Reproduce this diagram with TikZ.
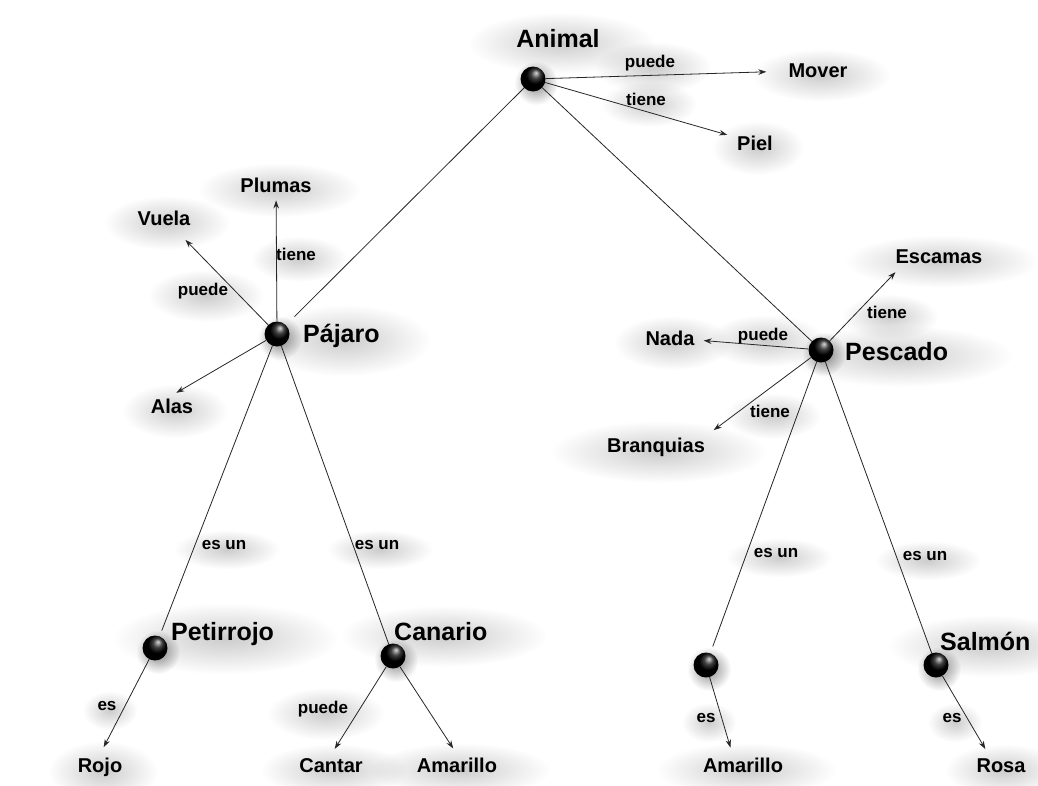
\documentclass[tikz,border=0pt]{standalone}
\usepackage{fontspec}
\setmainfont{Liberation Sans}
\usetikzlibrary{arrows.meta,calc,fadings,backgrounds}
\pgfdeclarelayer{bottom}
\pgfsetlayers{bottom,background,main}
\tikzfading[name=glowfade, inner color=transparent!0, outer color=transparent!100]
\begin{document}
\begin{tikzpicture}[x=1pt,y=-1pt,
  ball/.style={circle, minimum size=25pt, inner sep=0pt, ball color=black, shading angle=-70},
  big/.style={font=\bfseries\fontsize{25}{30}\selectfont, inner sep=3pt, anchor=base west},
  mid/.style={font=\bfseries\fontsize{20}{24}\selectfont, inner sep=3pt, anchor=base},
  lbl/.style={font=\bfseries\fontsize{17}{20}\selectfont, inner sep=2pt, anchor=base},
  link/.style={draw=black!85, line width=0.8pt},
  arr/.style={link, -{Stealth[length=8pt,width=5.5pt]}, shorten >=#1},
  arr/.default=6pt,
  glow/.style={fill=black, fill opacity=#1, path fading=glowfade},
]
\begin{pgfonlayer}{bottom}
\fill[white] (0,0) rectangle (1038,785);
\end{pgfonlayer}
\useasboundingbox (0,0) rectangle (1038,785);

% spheres
\node[ball] (animal) at (533,79) {};
\node[ball] (pajaro) at (277,334) {};
\node[ball] (pescado) at (821,350) {};
\node[ball] (petirrojo) at (155,648) {};
\node[ball] (canario) at (393,656) {};
\node[ball] (pez) at (706,665) {};
\node[ball] (salmon) at (936,665) {};

% sphere names
\node[big, anchor=base] (animalL) at (558,47) {Animal};
\node[big] (pajaroL) at (300,342) {Pájaro};
\node[big] (pescadoL) at (842,360) {Pescado};
\node[big] (petirrojoL) at (168,640) {Petirrojo};
\node[big] (canarioL) at (391,640) {Canario};
\node[big] (salmonL) at (937,650) {Salmón};

% attributes
\node[mid] (mover) at (818,77) {Mover};
\node[mid] (piel) at (755,150) {Piel};
\node[mid] (plumas) at (276,192) {Plumas};
\node[mid] (vuela) at (164,225) {Vuela};
\node[mid] (alas) at (172,413) {Alas};
\node[mid] (rojo) at (100,772) {Rojo};
\node[mid] (cantar) at (331,772) {Cantar};
\node[mid] (amarillo1) at (457,772) {Amarillo};
\node[mid] (escamas) at (939,263) {Escamas};
\node[mid] (nada) at (670,345) {Nada};
\node[mid] (branquias) at (656,452) {Branquias};
\node[mid] (amarillo2) at (743,772) {Amarillo};
\node[mid] (rosa) at (1001,772) {Rosa};

% connector labels
\node[lbl] (l1) at (650,67) {puede};
\node[lbl] (l2) at (646,105) {tiene};
\node[lbl] (l3) at (296,260) {tiene};
\node[lbl] (l4) at (203,295) {puede};
\node[lbl] (l5) at (224,549) {es un};
\node[lbl] (l6) at (377,549) {es un};
\node[lbl] (l7) at (107,710) {es};
\node[lbl] (l8) at (323,713) {puede};
\node[lbl] (l9) at (887,318) {tiene};
\node[lbl] (l10) at (763,340) {puede};
\node[lbl] (l11) at (770,417) {tiene};
\node[lbl] (l12) at (776,557) {es un};
\node[lbl] (l13) at (925,560) {es un};
\node[lbl] (l14) at (706,722) {es};
\node[lbl] (l15) at (952,722) {es};

% soft shadows
\begin{scope}[on background layer]
\foreach \nd in {animalL,pajaroL,pescadoL,petirrojoL,canarioL,salmonL,
  mover,piel,plumas,vuela,alas,rojo,cantar,amarillo1,escamas,nada,branquias,amarillo2,rosa,
  l1,l2,l3,l4,l5,l6,l7,l8,l9,l10,l11,l12,l13,l14,l15}{
  \fill[glow=0.2] let \p1=(\nd.south west), \p2=(\nd.north east) in
    ($(\nd.center)+(3,5)$) ellipse [x radius={\x2-\x1+4pt}, y radius={\y2-\y1+6pt}];
}
\foreach \nd in {animal,pajaro,pescado,petirrojo,canario,pez,salmon}{
  \fill[glow=0.45] ($(\nd.center)+(3,4)$) circle [radius=22pt];
}
\end{scope}

% links
\draw[link, shorten >=12pt] (animal) -- (pajaro);
\draw[link] (animal) -- (pescado);
\draw[link, shorten >=6pt] (pajaro) -- (petirrojo);
\draw[link] (pajaro) -- (canario);
\draw[link, shorten >=7pt] (pescado) -- (pez);
\draw[link] (pescado) -- (salmon);

% arrows
\draw[arr=19pt] (animal) -- (mover);
\draw[arr=7pt] (animal) -- (piel);
\draw[arr=5pt] (pajaro) -- (plumas);
\draw[arr=16pt] (pajaro) -- (vuela);
\draw[arr=5pt] (pajaro) -- (alas.north);
\draw[arr=8pt] (petirrojo) -- (rojo.north);
\draw[arr=7pt] (canario) -- (cantar.north);
\draw[arr=7pt] (canario) -- (amarillo1.north);
\draw[arr=7pt] (pez) -- (amarillo2.135);
\draw[arr=7pt] (salmon) -- (rosa.140);
\draw[arr=8pt] (pescado) -- (escamas.195);
\draw[arr=6pt] (pescado) -- (nada);
\draw[arr=7pt] (pescado) -- (branquias.north east);
\end{tikzpicture}
\end{document}
